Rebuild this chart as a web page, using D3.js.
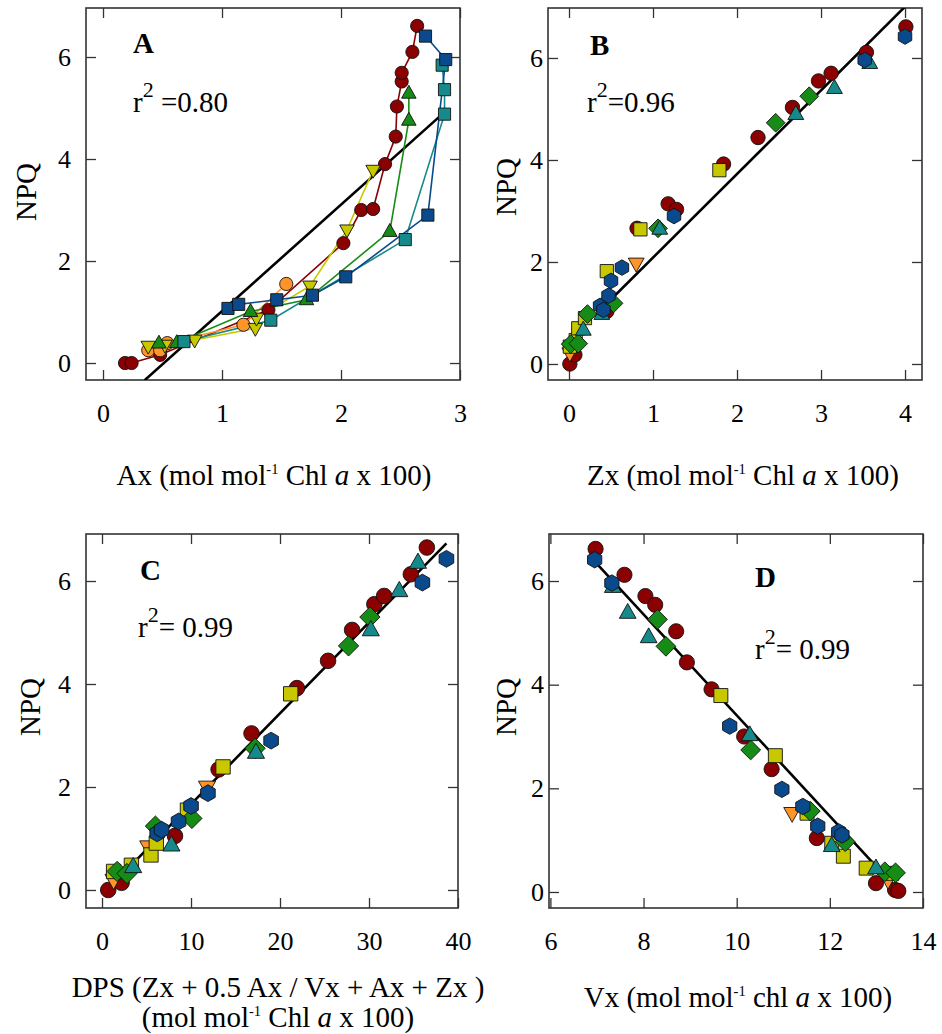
<!DOCTYPE html>
<html>
<head>
<meta charset="utf-8">
<script src="https://cdn.jsdelivr.net/npm/d3@7"></script>
<style>
  body { margin: 0; background: #fff; }
  svg { display: block; font-family: "Liberation Serif", "Times New Roman", serif; }
  text { white-space: pre; }
</style>
</head>
<body>
<svg id="chart" width="942" height="1034"></svg>
<script>
// ---- data: [x, NPQ] pairs ----
// panel A : Ax
const axRed    = [[0.185,0.0],[0.24,0.0],[0.48,0.16],[1.39,1.04],[2.02,2.35],[2.17,3.0],[2.27,3.02],[2.37,3.9],[2.46,4.44],[2.47,5.03],[2.51,5.52],[2.51,5.69],[2.60,6.10],[2.64,6.61]];
const axOrange = [[0.38,0.25],[0.48,0.25],[0.54,0.39],[1.18,0.75],[1.54,1.55]];
const axYellow = [[0.38,0.33],[0.52,0.35],[0.77,0.45],[1.28,0.68],[1.29,0.88],[1.74,1.51],[2.05,2.61],[2.27,3.78]];
const axGreen  = [[0.47,0.39],[0.62,0.40],[1.24,1.01],[1.71,1.24],[2.41,2.58],[2.57,4.76],[2.57,5.29]];
const axTeal   = [[0.68,0.42],[1.41,0.84],[2.54,2.42],[2.87,4.88],[2.87,5.36],[2.85,5.84]];
const axBlue   = [[1.05,1.07],[1.14,1.15],[1.46,1.24],[1.76,1.33],[2.04,1.69],[2.73,2.90],[2.88,5.95],[2.71,6.41]];
// panel B : Zx
const zxRed    = [[0.01,0.0],[0.07,0.18],[0.45,1.03],[0.81,2.66],[1.18,3.14],[1.28,3.03],[1.84,3.92],[2.25,4.44],[2.66,5.03],[2.97,5.55],[3.12,5.70],[3.54,6.11],[4.01,6.61]];
const zxOrange = [[0.01,0.21],[0.80,1.97]];
const zxYellow = [[0.01,0.34],[0.08,0.47],[0.11,0.70],[0.19,0.90],[0.45,1.82],[0.85,2.64],[1.79,3.80]];
const zxGreen  = [[0.02,0.39],[0.11,0.40],[0.22,0.98],[0.53,1.19],[1.06,2.66],[2.46,4.73],[2.86,5.25]];
const zxTeal   = [[0.17,0.67],[0.39,0.98],[1.08,2.65],[2.70,4.90],[3.16,5.41],[3.58,5.90]];
const zxBlue   = [[0.37,1.14],[0.41,1.06],[0.47,1.34],[0.50,1.63],[0.63,1.89],[1.25,2.90],[3.52,5.96],[4.00,6.42]];
// panel C : DPS
const dpsRed    = [[0.7,0.0],[2.2,0.14],[8.2,1.05],[13.1,2.34],[16.8,3.04],[21.9,3.92],[25.4,4.45],[28.1,5.05],[30.6,5.55],[31.7,5.71],[34.7,6.13],[36.5,6.65]];
const dpsOrange = [[1.3,0.19],[5.2,0.84],[11.8,2.0]];
const dpsYellow = [[1.3,0.36],[3.3,0.48],[5.5,0.68],[6.1,0.91],[9.6,1.55],[13.6,2.39],[21.2,3.81]];
const dpsGreen  = [[1.7,0.36],[2.8,0.32],[6.0,1.24],[10.1,1.39],[17.2,2.75],[27.7,4.74],[30.1,5.30]];
const dpsTeal   = [[3.5,0.45],[7.8,0.87],[17.3,2.67],[30.2,5.05],[33.4,5.81],[35.5,6.36]];
const dpsBlue   = [[6.2,1.10],[6.7,1.17],[8.6,1.33],[10.0,1.63],[11.9,1.88],[19.0,2.90],[36.0,5.97],[38.7,6.43]];
// panel D : Vx
const vxRed    = [[6.97,6.62],[7.59,6.12],[8.04,5.71],[8.25,5.54],[8.70,5.03],[8.93,4.43],[9.46,3.91],[10.16,3.00],[10.75,2.37],[11.72,1.04],[12.99,0.17],[13.40,0.04],[13.47,0.02]];
const vxOrange = [[11.19,1.52],[13.25,0.23]];
const vxYellow = [[9.66,3.79],[10.83,2.63],[11.51,1.52],[12.04,0.94],[12.29,0.69],[12.78,0.46],[13.33,0.36]];
const vxGreen  = [[8.30,5.26],[8.48,4.74],[10.30,2.74],[11.58,1.56],[12.33,0.97],[13.18,0.39],[13.41,0.37]];
const vxTeal   = [[7.34,5.89],[7.66,5.39],[8.11,4.92],[10.28,3.03],[12.04,0.89],[12.99,0.46]];
const vxBlue   = [[6.95,6.41],[7.32,5.96],[9.85,3.20],[10.97,1.98],[11.42,1.65],[11.74,1.27],[12.19,1.16],[12.26,1.10]];

// regression lines: [slope, intercept, xFrom, xTo]
const fitA = [2.086, -1.067, 0.35, 2.87];
const fitB = [1.64, 0.446, 0.40, 4.2];
const fitC = [0.1765, -0.099, 0.9, 38.7];
const fitD = [-0.974, 13.15, 6.95, 13.43];

const npqTicks = [0, 2, 4, 6];
const axTicks = [0, 1, 2, 3];
const zxTicks = [0, 1, 2, 3, 4];
const dpsTicks = [0, 10, 20, 30, 40];
const vxTicks = [6, 8, 10, 12, 14];

const r2Labels = [' =0.80', '=0.96', '= 0.99', '= 0.99'];

// ---- styles ----
const col = {red: '#8b0000', orange: '#ff9428', yellow: '#c8c800', green: '#168c16', teal: '#168a8a', blue: '#0a4a8c'};

const svg = d3.select('#chart');

function shape(kind, r) {
    let pts;
    if (kind === 'circle') return d3.symbol(d3.symbolCircle, Math.PI * r * r)();
    if (kind === 'square') { const s = r * 0.92; pts = [[-s,-s],[s,-s],[s,s],[-s,s]]; }
    if (kind === 'triUp') pts = [[0,-r*1.2],[r*1.1,r*0.75],[-r*1.1,r*0.75]];
    if (kind === 'triDown') pts = [[0,r*1.2],[r*1.1,-r*0.75],[-r*1.1,-r*0.75]];
    if (kind === 'diamond') { const s = r * 1.3; pts = [[0,-s],[s,0],[0,s],[-s,0]]; }
    if (kind === 'hex') pts = d3.range(6).map(i => {
        const a = (-90 + 60 * i) * Math.PI / 180;
        return [Math.cos(a) * r * 1.08, Math.sin(a) * r * 1.08];
    });
    return d3.line().curve(d3.curveLinearClosed)(pts);
}

const panels = [
    {
        letter: 'A', frame: [86, 8, 460, 380], xd: [-0.143, 3], yd: [-0.333, 6.961], xt: axTicks,
        yPad: 15, r: 6.6, connect: true, fit: fitA, r2: r2Labels[0],
        letterPos: [133, 53], r2Pos: [133, 112], npqPos: [26, 192],
        title: [[{t: 'Ax (mol mol'}, {t: '-1', sup: 1}, {t: ' Chl '}, {t: 'a', it: 1}, {t: ' x 100)'}]],
        titleX: 274, titleY: [485],
        series: [[axRed,'red','circle'],[axOrange,'orange','circle'],[axYellow,'yellow','triDown'],
                 [axGreen,'green','triUp'],[axTeal,'teal','square'],[axBlue,'blue','square']]
    },
    {
        letter: 'B', frame: [548, 8, 922, 380], xd: [-0.25, 4.202], yd: [-0.314, 6.98], xt: zxTicks,
        yPad: 5, r: 7.2, connect: false, fit: fitB, r2: r2Labels[1],
        letterPos: [590, 55], r2Pos: [587, 112], npqPos: [506, 187],
        title: [[{t: 'Zx (mol mol'}, {t: '-1', sup: 1}, {t: ' Chl '}, {t: 'a', it: 1}, {t: ' x 100)'}]],
        titleX: 743, titleY: [485],
        series: [[zxRed,'red','circle'],[zxOrange,'orange','triDown'],[zxYellow,'yellow','square'],
                 [zxGreen,'green','diamond'],[zxTeal,'teal','triUp'],[zxBlue,'blue','hex']]
    },
    {
        letter: 'C', frame: [86, 534, 458, 908], xd: [-1.8, 40], yd: [-0.35, 6.913], xt: dpsTicks,
        yPad: 15, r: 7.8, connect: false, fit: fitC, r2: r2Labels[2],
        letterPos: [140, 580], r2Pos: [138, 637], npqPos: [30, 707],
        title: [[{t: 'DPS (Zx + 0.5 Ax / Vx + Ax + Zx )'}],
                [{t: '(mol mol'}, {t: '-1', sup: 1}, {t: ' Chl '}, {t: 'a', it: 1}, {t: ' x 100)'}]],
        titleX: 278, titleY: [997, 1027],
        series: [[dpsRed,'red','circle'],[dpsOrange,'orange','triDown'],[dpsYellow,'yellow','square'],
                 [dpsGreen,'green','diamond'],[dpsTeal,'teal','triUp'],[dpsBlue,'blue','hex']]
    },
    {
        letter: 'D', frame: [549, 534, 923, 908], xd: [5.97, 14.0], yd: [-0.309, 6.907], xt: vxTicks,
        yPad: 5, r: 7.6, connect: false, fit: fitD, r2: r2Labels[3],
        letterPos: [755, 587], r2Pos: [755, 659], npqPos: [506, 707],
        title: [[{t: 'Vx (mol mol'}, {t: '-1', sup: 1}, {t: ' chl '}, {t: 'a', it: 1}, {t: ' x 100)'}]],
        titleX: 738, titleY: [1007],
        series: [[vxRed,'red','circle'],[vxOrange,'orange','triDown'],[vxYellow,'yellow','square'],
                 [vxGreen,'green','diamond'],[vxTeal,'teal','triUp'],[vxBlue,'blue','hex']]
    }
];

function richText(g, x, y, parts, size) {
    const t = g.append('text').attr('x', x).attr('y', y)
        .attr('font-size', size).attr('text-anchor', 'middle').attr('fill', '#000');
    let shift = 0;
    parts.forEach(p => {
        const s = t.append('tspan').text(p.t);
        if (p.sup) {
            s.attr('font-size', size * 0.5).attr('dy', -size * 0.38);
            shift = size * 0.38;
        } else if (shift) {
            s.attr('dy', shift);
            shift = 0;
        }
        if (p.it) s.attr('font-style', 'italic');
    });
}

panels.forEach((p, pi) => {
    const [x0, y0, x1, y1] = p.frame;
    const x = d3.scaleLinear().domain(p.xd).range([x0, x1]);
    const y = d3.scaleLinear().domain(p.yd).range([y1, y0]);
    const g = svg.append('g');

    // clip for the fit line
    svg.append('clipPath').attr('id', 'clip' + pi)
        .append('rect').attr('x', x0).attr('y', y0).attr('width', x1 - x0).attr('height', y1 - y0);

    // axes: ticks drawn inward on all four sides
    const tickLen = 10;
    const fmt = d3.format('d');
    const bottom = g.append('g').attr('transform', `translate(0,${y1})`)
        .call(d3.axisBottom(x).tickValues(p.xt).tickFormat(fmt).tickSizeInner(-tickLen).tickSizeOuter(0).tickPadding(24));
    g.append('g').attr('transform', `translate(0,${y0})`)
        .call(d3.axisTop(x).tickValues(p.xt).tickSizeInner(-tickLen).tickSizeOuter(0).tickFormat(''));
    const left = g.append('g').attr('transform', `translate(${x0},0)`)
        .call(d3.axisLeft(y).tickValues(npqTicks).tickFormat(fmt).tickSizeInner(-tickLen).tickSizeOuter(0).tickPadding(p.yPad));
    g.append('g').attr('transform', `translate(${x1},0)`)
        .call(d3.axisRight(y).tickValues(npqTicks).tickSizeInner(-tickLen).tickSizeOuter(0).tickFormat(''));
    g.selectAll('.domain').remove();
    g.selectAll('.tick line').attr('stroke', '#333').attr('stroke-width', 1.3);
    [bottom, left].forEach(a => a.attr('font-family', null).attr('font-size', 26)
        .selectAll('text').attr('fill', '#000'));

    // frame
    g.append('rect').attr('x', x0).attr('y', y0).attr('width', x1 - x0).attr('height', y1 - y0)
        .attr('fill', 'none').attr('stroke', '#333').attr('stroke-width', 1.6);

    // regression line
    const [m, b, fx0, fx1] = p.fit;
    g.append('line').attr('clip-path', `url(#clip${pi})`)
        .attr('x1', x(fx0)).attr('y1', y(m * fx0 + b))
        .attr('x2', x(fx1)).attr('y2', y(m * fx1 + b))
        .attr('stroke', '#000').attr('stroke-width', 2.6);

    // connecting lines (panel A)
    if (p.connect) {
        const line = d3.line().x(d => x(d[0])).y(d => y(d[1]));
        p.series.forEach(s => {
            g.append('path').datum(s[0]).attr('d', line)
                .attr('fill', 'none').attr('stroke', col[s[1]]).attr('stroke-width', 1.6);
        });
    }

    // markers
    p.series.forEach(s => {
        g.append('g').selectAll('path').data(s[0]).enter().append('path')
            .attr('transform', d => `translate(${x(d[0])},${y(d[1])})`)
            .attr('d', shape(s[2], p.r))
            .attr('fill', col[s[1]]).attr('stroke', '#111').attr('stroke-width', 0.9);
    });

    // panel letter and r2
    g.append('text').attr('x', p.letterPos[0]).attr('y', p.letterPos[1])
        .attr('font-size', 29).attr('font-weight', 'bold').text(p.letter);
    const r2 = g.append('text').attr('x', p.r2Pos[0]).attr('y', p.r2Pos[1]).attr('font-size', 29);
    r2.append('tspan').text('r');
    r2.append('tspan').text('2').attr('font-size', 22).attr('dy', -15);
    r2.append('tspan').text(p.r2).attr('dy', 15);

    // NPQ label
    g.append('text').attr('transform', `translate(${p.npqPos[0]},${p.npqPos[1]}) rotate(-90)`)
        .attr('text-anchor', 'middle').attr('dy', '0.35em').attr('font-size', 29).text('NPQ');

    // x title
    p.title.forEach((parts, i) => richText(g, p.titleX, p.titleY[i], parts, 29));
});
</script>
</body>
</html>
